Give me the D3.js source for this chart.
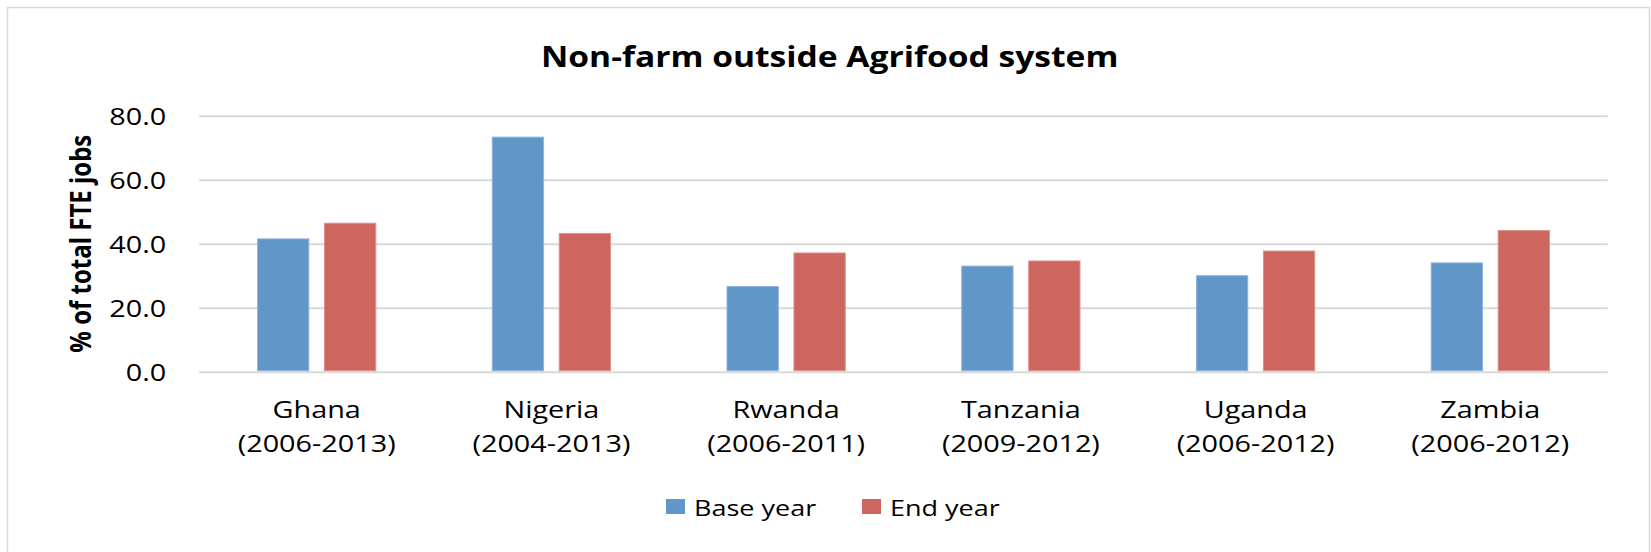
<!DOCTYPE html>
<html>
<head>
<meta charset="utf-8">
<script src="https://cdn.jsdelivr.net/npm/d3@7"></script>
<style>
  html, body { margin: 0; padding: 0; background: #fff; }
  svg { display: block; font-family: "Open Sans", sans-serif; }
</style>
</head>
<body>
<svg id="chart" width="1651" height="552"></svg>
<script>
const countries = ["Ghana", "Nigeria", "Rwanda", "Tanzania", "Uganda", "Zambia"];
const periods = ["(2006-2013)", "(2004-2013)", "(2006-2011)", "(2009-2012)", "(2006-2012)", "(2006-2012)"];
const seriesNames = ["Base year", "End year"];
const baseYear = [41.5, 73.3, 26.6, 33.0, 30.0, 34.0];
const endYear = [46.4, 43.2, 37.1, 34.6, 37.7, 44.1];
const yTicks = [0, 20, 40, 60, 80];
const colors = ["#6196c9", "#cc665f"];
const strokes = ["#8db3dc", "#e0908a"];

const title = "Non-farm outside Agrifood system";
const yTitle = "% of total FTE jobs";
const SX = 1.2; // horizontal stretch of the reference's text

const svg = d3.select("#chart");
const margin = { left: 199.3, right: 1607.7, top: 115.7, bottom: 371.7 };

// frame
svg.append("rect")
  .attr("x", 7.5).attr("y", 7.5).attr("width", 1642).attr("height", 580)
  .attr("fill", "#fff").attr("stroke", "#d9d9d9").attr("stroke-width", 1.5);

const data = countries.map((c, i) => ({ country: c, period: periods[i], values: [baseYear[i], endYear[i]] }));

const x0 = d3.scaleBand().domain(countries).range([margin.left, margin.right])
  .paddingInner(0.492).paddingOuter(0.246);
const x1 = d3.scaleBand().domain(seriesNames).range([0, x0.bandwidth()]).paddingInner(0.219);
const y = d3.scaleLinear().domain([0, 80]).range([margin.bottom, margin.top]);

// gridlines + y ticks
const yAxis = svg.append("g")
  .attr("transform", `translate(${margin.left},0)`)
  .call(d3.axisLeft(y).tickValues(yTicks).tickFormat(d3.format(".1f"))
    .tickSize(-(margin.right - margin.left)).tickPadding(0));
yAxis.select(".domain").remove();
yAxis.selectAll(".tick line").attr("stroke", "#d9d9d9").attr("stroke-width", 2);
yAxis.selectAll(".tick text")
  .attr("x", -33 / SX).attr("dy", "0.37em")
  .attr("transform", `scale(${SX},1)`)
  .attr("fill", "#000").style("font-size", "24px")
  .style("font-family", '"Open Sans", sans-serif');

// bars
const groups = svg.append("g").selectAll("g").data(data).join("g")
  .attr("transform", d => `translate(${x0(d.country)},0)`);
groups.selectAll("rect")
  .data(d => d.values.map((v, k) => ({ key: seriesNames[k], value: v, k })))
  .join("rect")
  .attr("x", d => x1(d.key) + 0.5)
  .attr("width", x1.bandwidth() - 1)
  .attr("y", d => y(d.value))
  .attr("height", d => y(0) - y(d.value) - 1)
  .attr("fill", d => colors[d.k])
  .attr("stroke", d => strokes[d.k])
  .attr("stroke-width", 1);

// category labels
const xAxis = svg.append("g")
  .attr("transform", `translate(0,${margin.bottom})`)
  .call(d3.axisBottom(x0).tickSize(0).tickFormat(""));
xAxis.select(".domain").remove();
xAxis.selectAll(".tick").each(function (c, i) {
  const g = d3.select(this).append("g").attr("transform", `scale(${SX},1)`);
  const t = g.append("text").attr("text-anchor", "middle").attr("fill", "#000")
    .style("font-size", "24px").style("font-family", '"Open Sans", sans-serif');
  t.append("tspan").attr("x", 0).attr("y", 46.6).text(c);
  t.append("tspan").attr("x", 0).attr("y", 80).text(periods[i]);
});

// title
svg.append("g").attr("transform", `translate(829.7,66.7) scale(${SX},1)`)
  .append("text").attr("text-anchor", "middle").attr("fill", "#000")
  .style("font-size", "28px").style("font-weight", "bold").text(title);

// y title
svg.append("g").attr("transform", `translate(91,243.7) scale(${SX},1) rotate(-90)`)
  .append("text").attr("text-anchor", "middle").attr("fill", "#000")
  .style("font-size", "24px").style("font-weight", "bold").text(yTitle);

// legend
const legendX = [666, 862];
const leg = svg.append("g").selectAll("g").data(seriesNames).join("g")
  .attr("transform", (d, i) => `translate(${legendX[i]},499)`);
leg.append("rect").attr("width", 19).attr("height", 15).attr("fill", (d, i) => colors[i]);
leg.append("g").attr("transform", `translate(28,17) scale(${SX},1)`)
  .append("text").attr("fill", "#000").style("font-size", "22.5px").text(d => d);
</script>
</body>
</html>
